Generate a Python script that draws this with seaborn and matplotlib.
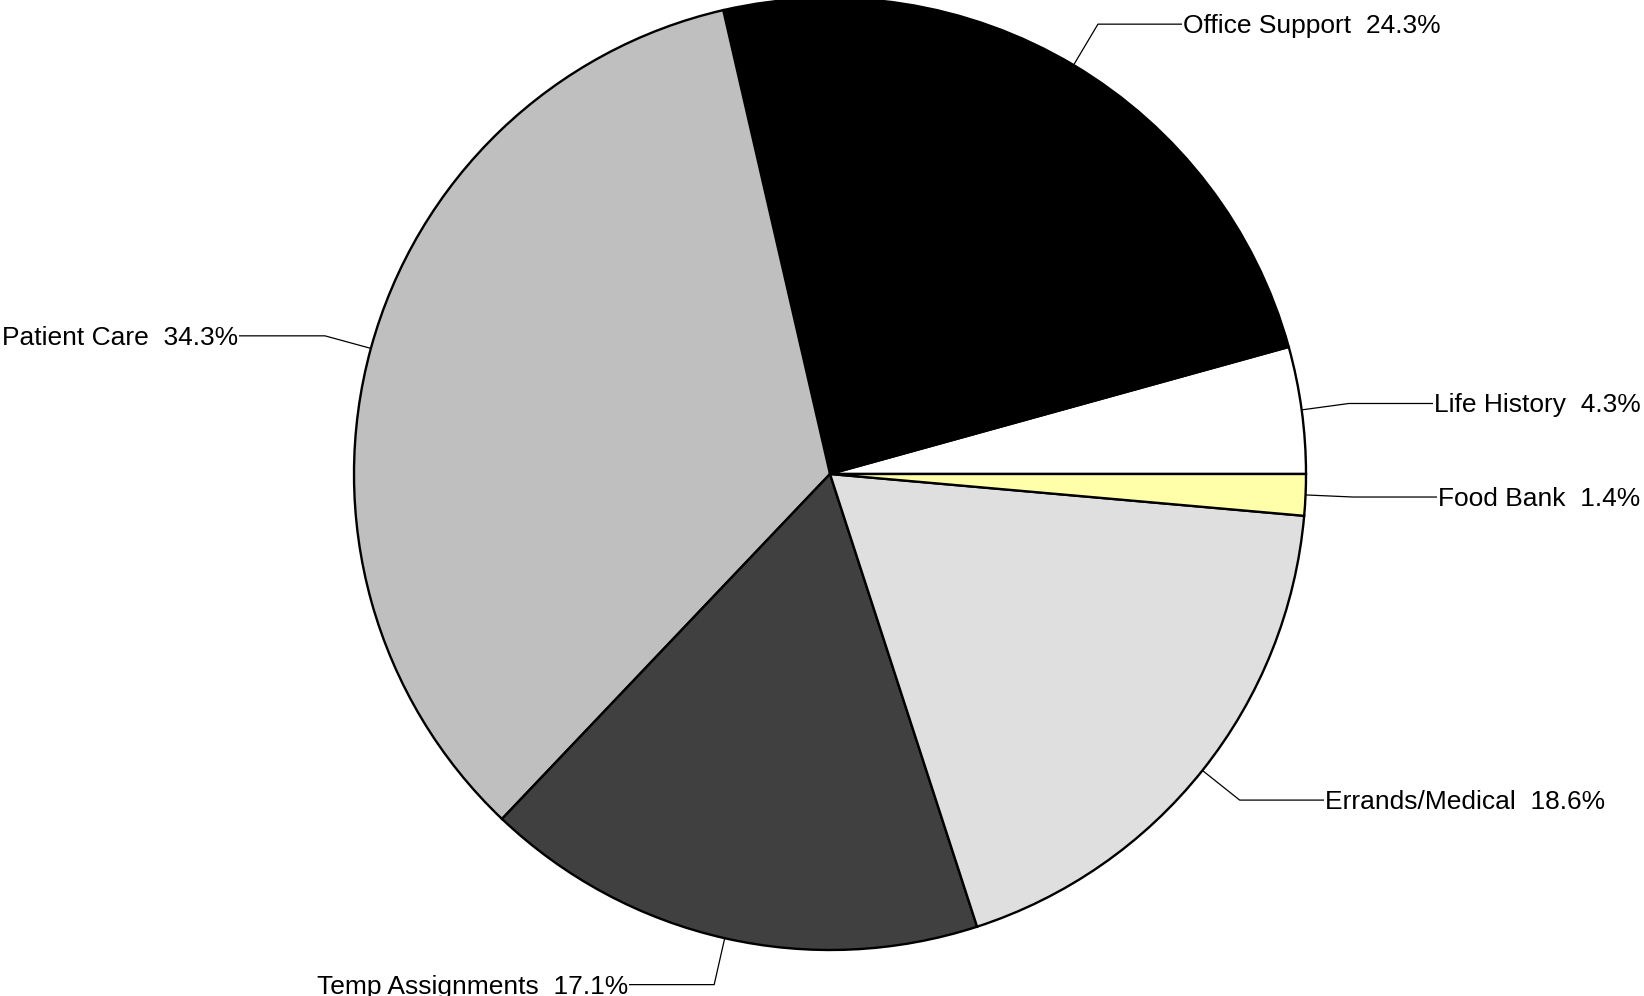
import numpy as np
import matplotlib
matplotlib.use("Agg")
import matplotlib.pyplot as plt
import seaborn as sns

categories = ["Life History", "Office Support", "Patient Care",
              "Temp Assignments", "Errands/Medical", "Food Bank"]
values = [4.3, 24.3, 34.3, 17.1, 18.6, 1.4]
colors = ["#ffffff", "#000000", "#bfbfbf", "#404040", "#dfdfdf", "#ffffaa"]

sns.set_theme(style="white")
plt.rcParams["font.family"] = ["Liberation Sans", "DejaVu Sans"]

W, H = 1644, 996
fig = plt.figure(figsize=(W / 100, H / 100), dpi=100)
ax = fig.add_axes([0, 0, 1, 1])

cx, cy, R = 830, H - 474, 476
wedges, _ = ax.pie(values, colors=colors, startangle=0, counterclock=True,
                   center=(cx, cy), radius=R,
                   wedgeprops=dict(edgecolor="black", linewidth=1.7))
ax.set_xlim(0, W)
ax.set_ylim(0, H)
ax.set_aspect("equal")
ax.axis("off")

# text anchor x (pixels) for each label
text_x = {"Life History": 1434, "Office Support": 1183, "Patient Care": 238,
          "Temp Assignments": 628, "Errands/Medical": 1325, "Food Bank": 1438}

for w, cat, val in zip(wedges, categories, values):
    mid = np.deg2rad((w.theta1 + w.theta2) / 2)
    x0, y0 = cx + R * np.cos(mid), cy + R * np.sin(mid)
    x1, y1 = cx + 1.1 * R * np.cos(mid), cy + 1.1 * R * np.sin(mid)
    tx = text_x[cat]
    right = np.cos(mid) > 0
    ax.plot([x0, x1, tx - (1 if right else -1)], [y0, y1, y1],
            color="black", lw=0.9, solid_capstyle="butt")
    ax.text(tx, y1 - 2, f"{cat}  {val:.1f}%", ha="left" if right else "right",
            va="center", fontsize=19, color="black")

fig.savefig("out.png", dpi=100)
